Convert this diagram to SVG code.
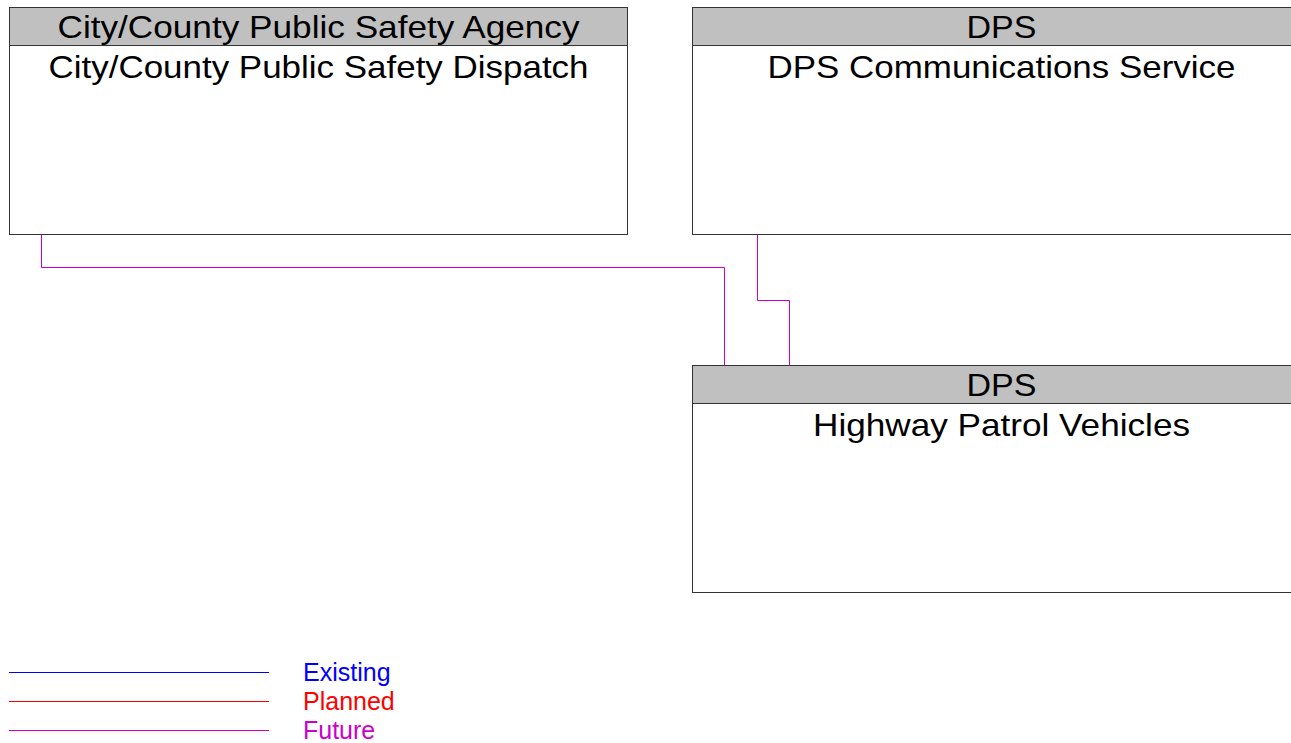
<svg xmlns="http://www.w3.org/2000/svg" width="1291" height="743" viewBox="0 0 1291 743">
<style>
.box{fill:#fff;stroke:#333;stroke-width:1}
.hdr{fill:#c0c0c0;stroke:#333;stroke-width:1}
.t{font-family:"Liberation Sans",Arial,sans-serif;font-size:32px;fill:#000;text-anchor:middle}
.c{fill:none;stroke:#c0c;stroke-width:1}
.lg{font-family:"Liberation Sans",Arial,sans-serif;font-size:25px}
</style>
<rect width="1291" height="743" fill="#fff"/>
<g id="node-dispatch">
<rect class="box" x="9.5" y="7.5" width="618" height="227"/>
<rect class="hdr" x="9.5" y="7.5" width="618" height="38"/>
<text class="t" x="318.5" y="38" textLength="522" lengthAdjust="spacingAndGlyphs">City/County Public Safety Agency</text>
<text class="t" x="318.5" y="78" textLength="540" lengthAdjust="spacingAndGlyphs">City/County Public Safety Dispatch</text>
</g>
<g id="node-dpscomm">
<rect class="box" x="692.5" y="7.5" width="618" height="227"/>
<rect class="hdr" x="692.5" y="7.5" width="618" height="38"/>
<text class="t" x="1001.5" y="38" textLength="70" lengthAdjust="spacingAndGlyphs">DPS</text>
<text class="t" x="1001.5" y="78" textLength="468" lengthAdjust="spacingAndGlyphs">DPS Communications Service</text>
</g>
<g id="node-hpv">
<rect class="box" x="692.5" y="365.5" width="618" height="227"/>
<rect class="hdr" x="692.5" y="365.5" width="618" height="38"/>
<text class="t" x="1001.5" y="396" textLength="70" lengthAdjust="spacingAndGlyphs">DPS</text>
<text class="t" x="1001.5" y="436" textLength="377" lengthAdjust="spacingAndGlyphs">Highway Patrol Vehicles</text>
</g>
<g id="connectors">
<polyline class="c" points="41.5,235 41.5,267.5 724.5,267.5 724.5,365"/>
<polyline class="c" points="757.5,235 757.5,300.5 789.5,300.5 789.5,365"/>
</g>
<g id="legend">
<line x1="9" y1="672.5" x2="269" y2="672.5" stroke="#00f"/>
<line x1="9" y1="701.5" x2="269" y2="701.5" stroke="#f00"/>
<line x1="9" y1="730.5" x2="269" y2="730.5" stroke="#c0c"/>
<text class="lg" x="303" y="681" fill="#00f">Existing</text>
<text class="lg" x="303" y="710" fill="#f00">Planned</text>
<text class="lg" x="303" y="739" fill="#c0c">Future</text>
</g>
</svg>
